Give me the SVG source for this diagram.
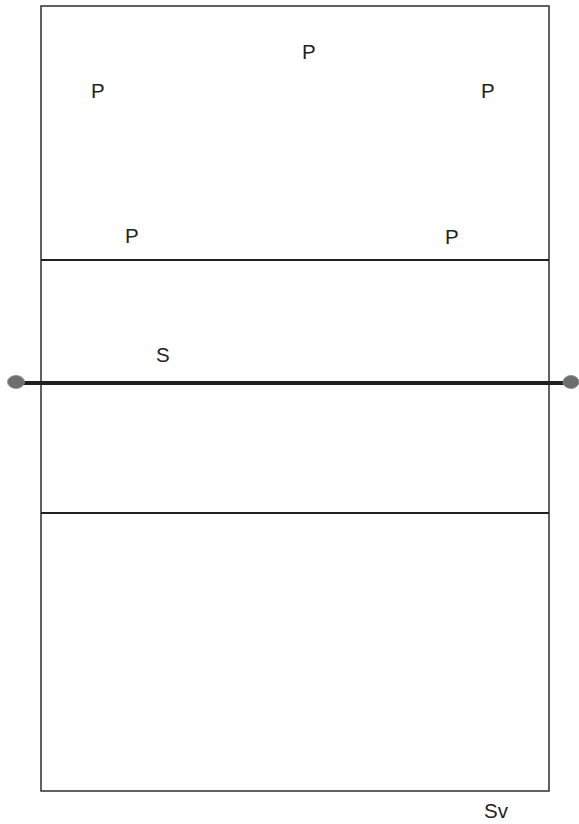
<svg xmlns="http://www.w3.org/2000/svg" width="579" height="824" viewBox="0 0 579 824">
<style>
.court{fill:none;stroke:#3a3a3a;stroke-width:1.6}
.line{stroke:#231f20;stroke-width:1.8}
.net{stroke:#231f20;stroke-width:4}
.post{fill:#6d6e70;stroke:#8a8a8a;stroke-width:0.8}
.lbl{font-family:"Liberation Sans",Arial,sans-serif;font-size:20.5px;fill:#231f20}
</style>
<rect width="579" height="824" fill="#ffffff"/>
<g id="court">
<rect class="court" x="41" y="6" width="508" height="785"/>
<line class="line" x1="41" y1="260" x2="549" y2="260"/>
<line class="line" x1="41" y1="513" x2="549" y2="513"/>
</g>
<g id="net">
<line class="net" x1="16" y1="383" x2="571" y2="383"/>
<ellipse class="post" cx="16" cy="382" rx="8.5" ry="6.5"/>
<ellipse class="post" cx="571" cy="382" rx="8" ry="6.5"/>
</g>
<g id="labels">
<text class="lbl" x="302" y="59">P</text>
<text class="lbl" x="91" y="98">P</text>
<text class="lbl" x="481" y="98">P</text>
<text class="lbl" x="125" y="243">P</text>
<text class="lbl" x="445" y="244">P</text>
<text class="lbl" x="156" y="362">S</text>
<text class="lbl" x="484" y="818">Sv</text>
</g>
</svg>
